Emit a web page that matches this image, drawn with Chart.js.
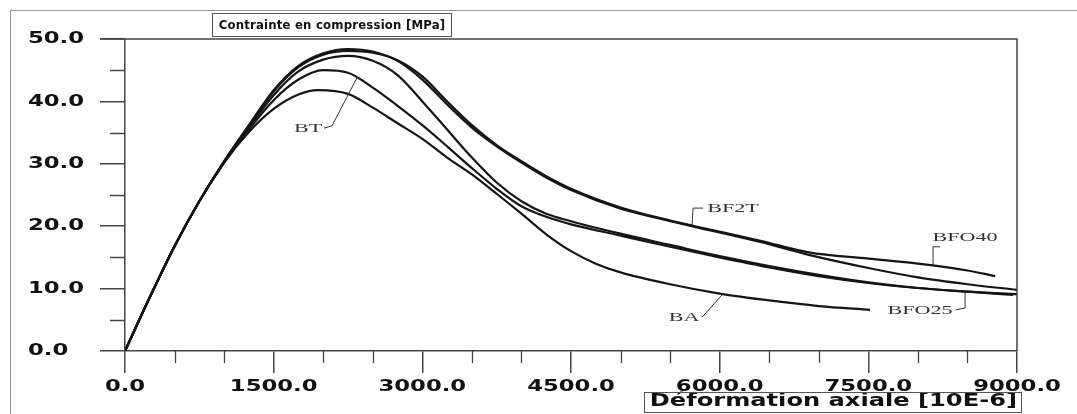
<!DOCTYPE html>
<html>
<head>
<meta charset="utf-8">
<script src="https://cdn.jsdelivr.net/npm/chart.js@4"></script>
<style>
  html, body { margin: 0; padding: 0; background: #fff; }
  #wrap { position: relative; width: 1077px; height: 414px; overflow: hidden; }
  #frame { position: absolute; left: 10px; top: 10px; width: 1100px; height: 420px; border-left: 1px solid #999; border-top: 1px solid #999; }
  #title { position: absolute; left: 212px; top: 13px; width: 238px; height: 22px; border: 1px solid #555;
           font: bold 13px "Liberation Sans Narrow", "DejaVu Sans Condensed", sans-serif; letter-spacing: 0.2px;
           line-height: 22px; text-align: center; color: #111; white-space: nowrap; }
  canvas { position: absolute; left: 0; top: 0; }
</style>
</head>
<body>
<div id="wrap">
  <div id="frame"></div>
  <canvas id="stressChart" width="1077" height="414"></canvas>
  <div id="title">Contrainte en compression [MPa]</div>
</div>
<script>
// strain in 10E-6, stress in MPa
const strainBT = [0, 250, 500, 750, 1000, 1250, 1500, 1750, 2000, 2250, 2500, 2750, 3000, 3250, 3500, 3750, 4000, 4250, 4500, 5000, 5500, 6000, 6500, 7000, 7500, 8000, 8500, 9000];
const stressBT = [0, 8.6, 16.8, 24, 30.2, 35.5, 40.2, 43.5, 45, 44.6, 42.2, 39.3, 36.2, 32.8, 29.3, 26, 23.2, 21.5, 20.3, 18.5, 16.7, 15, 13.4, 12, 10.9, 10.1, 9.5, 9.1];

const strainBA = [0, 250, 500, 750, 1000, 1250, 1500, 1750, 1950, 2250, 2500, 2750, 3000, 3250, 3500, 3750, 4000, 4250, 4500, 4750, 5000, 5500, 6000, 6500, 7000, 7518];
const stressBA = [0, 8.6, 16.8, 24, 30.2, 35.1, 38.8, 41.1, 41.8, 41.2, 39, 36.5, 34, 31, 28.3, 25.2, 22, 18.7, 16, 14, 12.6, 10.7, 9.2, 8.1, 7.2, 6.6];

const strainBFO25 = [0, 250, 500, 750, 1000, 1250, 1500, 1750, 2000, 2250, 2500, 2750, 3000, 3250, 3500, 3750, 4000, 4250, 4500, 5000, 5500, 6000, 6500, 7000, 7500, 8000, 8500, 8960];
const stressBFO25 = [0, 8.6, 16.8, 24, 30.3, 35.8, 41, 44.8, 46.7, 47.3, 46.5, 44.2, 40, 35.5, 31, 27, 24, 22, 20.8, 18.8, 17, 15.2, 13.6, 12.2, 11, 10.1, 9.5, 9.0];

const strainBF2T = [0, 250, 500, 750, 1000, 1250, 1500, 1750, 2000, 2250, 2500, 2750, 3000, 3250, 3500, 3750, 4000, 4250, 4500, 5000, 5400, 5750, 6400, 6900, 7500, 8000, 8500, 9000];
const stressBF2T = [0, 8.6, 16.8, 24, 30.4, 36.2, 41.8, 45.7, 47.7, 48.4, 48, 46.5, 43.5, 39.5, 35.8, 32.8, 30.2, 27.8, 25.8, 22.8, 21.2, 19.9, 17.5, 15.4, 13.3, 11.8, 10.7, 9.8];

const strainBFO40 = [0, 250, 500, 750, 1000, 1250, 1500, 1750, 2000, 2250, 2500, 2750, 3000, 3250, 3500, 3750, 4000, 4250, 4500, 5000, 5400, 5750, 6400, 6900, 7500, 8000, 8500, 8780];
const stressBFO40 = [0, 8.6, 16.8, 24, 30.4, 36.1, 41.6, 45.5, 47.5, 48.1, 47.8, 46.6, 44, 40, 36.2, 33, 30.4, 28, 26, 23, 21.3, 20, 17.7, 15.8, 14.8, 14, 12.9, 12.0];

const xTicks = [0, 1500, 3000, 4500, 6000, 7500, 9000];
const yTicks = [0, 10, 20, 30, 40, 50];

// curve name labels: text position and leader line, in data units
const curveLabels = [
    { text: 'BT',    at: [1847, 35.7], leader: [[2008, 35.7], [2089, 36.1], [2341, 43.8]] },
    { text: 'BF2T',  at: [6135, 22.8], leader: [[5832, 22.9], [5732, 22.9], [5721, 20.2]] },
    { text: 'BFO40', at: [8476, 18.1], leader: [[8224, 16.7], [8153, 16.7], [8153, 13.8]] },
    { text: 'BFO25', at: [8022, 6.4],  leader: [[8385, 6.6], [8476, 6.9], [8476, 9.3]] },
    { text: 'BA',    at: [5641, 5.4],  leader: [[5822, 5.4], [6024, 9.0]] }
];

const STRETCH = 1.42; // the scanned fonts are wide
const plainFillText = CanvasRenderingContext2D.prototype.fillText;

function toPoints(xs, ys) {
    return xs.map((v, i) => ({ x: v, y: ys[i] }));
}

function curve(label, xs, ys) {
    return {
        label: label,
        data: toPoints(xs, ys),
        showLine: true,
        borderColor: '#151515',
        borderWidth: 2.2,
        pointRadius: 0,
        cubicInterpolationMode: 'monotone',
        fill: false
    };
}

const tickFont = { family: 'DejaVu Sans', size: 16, weight: 'bold' };
const titleFont = { family: 'DejaVu Sans', size: 17, weight: 'bold' };

const decorPlugin = {
    id: 'decor',
    beforeDraw(chart) {
        // stretch the axis texts sideways
        chart.ctx.fillText = function (t, x, y) {
            this.save();
            this.translate(x, y);
            this.scale(STRETCH, 1);
            plainFillText.call(this, t, 0, 0);
            this.restore();
        };
    },
    afterDraw(chart) {
        const { ctx, chartArea: a, scales: { x, y } } = chart;
        delete ctx.fillText;
        ctx.save();
        ctx.strokeStyle = '#444';
        ctx.lineWidth = 1.5;
        ctx.beginPath();
        ctx.moveTo(a.left - 25, a.top);
        ctx.lineTo(a.right, a.top);
        ctx.lineTo(a.right, a.bottom);
        ctx.stroke();

        // minor ticks
        ctx.lineWidth = 1.3;
        ctx.beginPath();
        for (let v = 500; v < 9000; v += 500) {
            if (v % 1500 === 0) continue;
            const px = Math.round(x.getPixelForValue(v)) + 0.5;
            ctx.moveTo(px, a.bottom);
            ctx.lineTo(px, a.bottom + 12);
        }
        for (let v = 5; v < 50; v += 10) {
            const py = Math.round(y.getPixelForValue(v)) + 0.5;
            ctx.moveTo(a.left - 15, py);
            ctx.lineTo(a.left, py);
        }
        ctx.stroke();

        // box round the x axis title
        ctx.font = 'bold 17px "DejaVu Sans"';
        const w = ctx.measureText(x.options.title.text).width * STRETCH;
        ctx.strokeStyle = '#555';
        ctx.lineWidth = 1;
        ctx.strokeRect(Math.round(x.right - w - 6) + 0.5, 392.5, Math.round(w + 10), 20);

        // curve labels
        ctx.font = '13px "Liberation Serif"';
        ctx.fillStyle = '#333';
        ctx.strokeStyle = '#333';
        ctx.textAlign = 'center';
        ctx.textBaseline = 'middle';
        curveLabels.forEach(l => {
            ctx.save();
            ctx.translate(x.getPixelForValue(l.at[0]), y.getPixelForValue(l.at[1]));
            ctx.scale(1.7, 1);
            ctx.fillText(l.text, 0, 0);
            ctx.restore();
            ctx.beginPath();
            l.leader.forEach((p, i) => {
                const px = x.getPixelForValue(p[0]);
                const py = y.getPixelForValue(p[1]);
                if (i === 0) ctx.moveTo(px, py); else ctx.lineTo(px, py);
            });
            ctx.stroke();
        });
        ctx.restore();
    }
};

const ctx = document.getElementById('stressChart').getContext('2d');
const stressChart = new Chart(ctx, {
    type: 'scatter',
    data: {
        datasets: [
            curve('BT', strainBT, stressBT),
            curve('BA', strainBA, stressBA),
            curve('BFO25', strainBFO25, stressBFO25),
            curve('BF2T', strainBF2T, stressBF2T),
            curve('BFO40', strainBFO40, stressBFO40)
        ]
    },
    options: {
        responsive: false,
        animation: false,
        devicePixelRatio: 1,
        layout: { padding: { left: 28, top: 39, right: 60, bottom: 0 } },
        plugins: { legend: { display: false }, tooltip: { enabled: false } },
        scales: {
            x: {
                type: 'linear',
                min: 0,
                max: 9000,
                afterBuildTicks: s => { s.ticks = xTicks.map(v => ({ value: v })); },
                ticks: { callback: v => v.toFixed(1), font: tickFont, color: '#111', padding: 4, maxRotation: 0, autoSkip: false },
                grid: { drawOnChartArea: false, tickLength: 22, color: '#444', lineWidth: 1.5 },
                border: { color: '#444', width: 1.5 },
                title: { display: true, text: 'Déformation axiale [10E-6]', align: 'end', color: '#111',
                         font: titleFont, padding: { top: 0, bottom: 2 } },
                afterFit: s => { s.height = 63; }
            },
            y: {
                min: 0,
                max: 50,
                afterBuildTicks: s => { s.ticks = yTicks.map(v => ({ value: v })); },
                ticks: { callback: v => v.toFixed(1), font: tickFont, color: '#111', crossAlign: 'far' },
                grid: { drawOnChartArea: false, tickLength: 25, color: '#444', lineWidth: 1.5 },
                border: { color: '#444', width: 1.5 },
                afterFit: s => { s.width = 97; }
            }
        }
    },
    plugins: [decorPlugin]
});
</script>
</body>
</html>
